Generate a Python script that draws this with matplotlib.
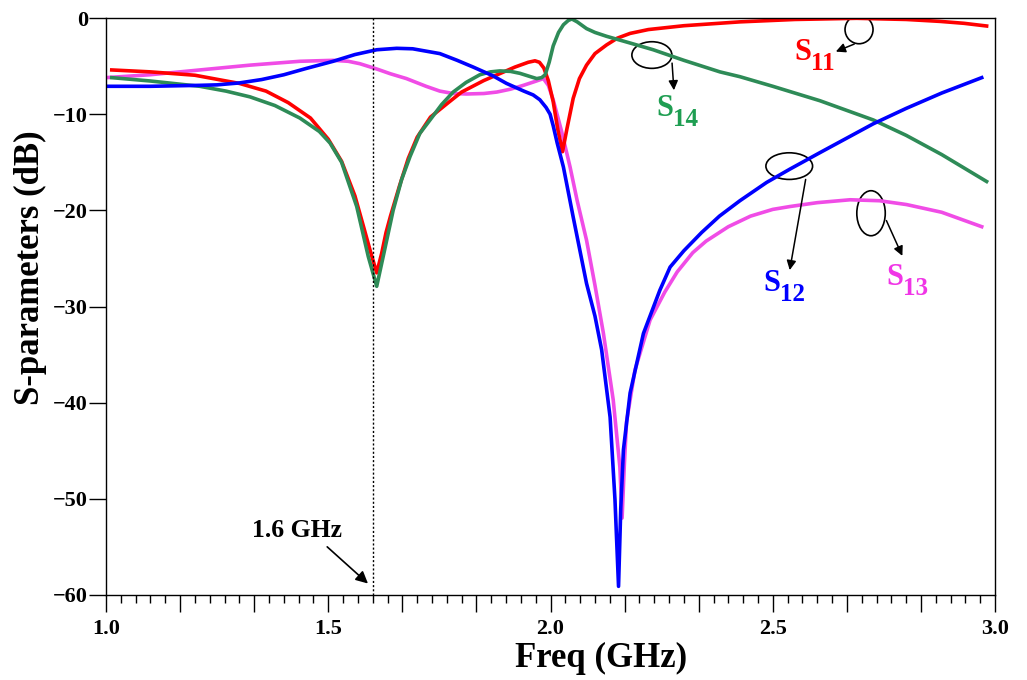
import matplotlib

matplotlib.use("Agg")
import matplotlib.pyplot as plt
from matplotlib.patches import Ellipse
from matplotlib.ticker import MultipleLocator, FuncFormatter

# values (GHz, dB)
s11_f = [1.013, 1.10, 1.20, 1.30, 1.36, 1.41, 1.46, 1.50, 1.53, 1.56, 1.58, 1.595, 1.609, 1.62, 1.63,
         1.64, 1.66, 1.68, 1.70, 1.73, 1.77, 1.80, 1.85, 1.88, 1.92, 1.95, 1.965, 1.975, 1.985, 1.995,
         2.006, 2.016, 2.027, 2.037, 2.051, 2.065, 2.081, 2.10, 2.126, 2.15, 2.179, 2.22, 2.30, 2.426,
         2.55, 2.689, 2.80, 2.876, 2.93, 2.981]
s11_db = [-5.4, -5.6, -5.95, -6.8, -7.6, -8.8, -10.4, -12.6, -14.9, -18.5, -21.8, -24.3, -26.5, -24.5, -22.3,
          -20.6, -17.5, -14.6, -12.4, -10.3, -8.8, -7.7, -6.5, -5.9, -5.1, -4.6, -4.45, -4.6, -5.2, -6.5,
          -8.7, -11.5, -13.9, -11.5, -8.35, -6.3, -4.9, -3.7, -2.8, -2.1, -1.6, -1.2, -0.8, -0.4,
          -0.15, -0.03, -0.15, -0.35, -0.55, -0.83]

s14_f = [1.013, 1.10, 1.211, 1.27, 1.324, 1.38, 1.436, 1.48, 1.504, 1.53, 1.564, 1.59, 1.609, 1.625,
         1.646, 1.665, 1.684, 1.706, 1.729, 1.755, 1.781, 1.81, 1.841, 1.865, 1.886, 1.91, 1.931, 1.955,
         1.969, 1.98, 1.988, 1.997, 2.006, 2.018, 2.029, 2.04, 2.048, 2.06, 2.081, 2.10, 2.126, 2.179,
         2.231, 2.30, 2.381, 2.426, 2.50, 2.606, 2.726, 2.80, 2.88, 2.981]
s14_db = [-6.2, -6.55, -7.1, -7.6, -8.2, -9.1, -10.4, -11.8, -13.0, -15.0, -19.6, -24.8, -27.9, -24.5,
          -20.0, -16.8, -14.4, -12.0, -10.6, -9.0, -7.7, -6.7, -5.9, -5.6, -5.5, -5.55, -5.75, -6.1,
          -6.3, -6.2, -5.9, -4.6, -2.9, -1.5, -0.7, -0.25, -0.1, -0.4, -1.1, -1.5, -1.9, -2.6,
          -3.3, -4.4, -5.6, -6.1, -7.1, -8.6, -10.6, -12.2, -14.2, -17.0]

s12_f = [1.0, 1.10, 1.211, 1.25, 1.30, 1.35, 1.40, 1.45, 1.511, 1.56, 1.609, 1.654, 1.69, 1.751, 1.79,
         1.826, 1.87, 1.901, 1.94, 1.961, 1.976, 1.99, 1.999, 2.006, 2.015, 2.029, 2.051, 2.081, 2.10,
         2.115, 2.134, 2.145, 2.153, 2.158, 2.164, 2.179, 2.209, 2.246, 2.269, 2.30, 2.34, 2.38, 2.426,
         2.486, 2.539, 2.606, 2.65, 2.726, 2.80, 2.88, 2.970]
s12_db = [-7.1, -7.1, -7.0, -6.95, -6.75, -6.4, -5.9, -5.25, -4.5, -3.8, -3.3, -3.15, -3.2, -3.7, -4.4,
          -5.1, -6.0, -6.8, -7.6, -8.0, -8.5, -9.3, -10.0, -11.2, -13.0, -15.5, -20.7, -27.6, -31.0,
          -34.5, -41.5, -50.1, -59.1, -51.0, -44.9, -39.0, -32.8, -28.3, -25.9, -24.2, -22.3, -20.6, -19.0,
          -17.1, -15.7, -14.0, -12.9, -11.0, -9.4, -7.8, -6.2]

s13_f = [1.0, 1.099, 1.211, 1.324, 1.436, 1.511, 1.545, 1.571, 1.609, 1.64, 1.676, 1.72, 1.751, 1.781,
         1.811, 1.85, 1.879, 1.91, 1.939, 1.965, 1.984, 1.995, 2.006, 2.025, 2.044, 2.060, 2.081, 2.10,
         2.119, 2.141, 2.156, 2.161, 2.166, 2.171, 2.190, 2.224, 2.257, 2.285, 2.32, 2.35, 2.40, 2.45, 2.50,
         2.539, 2.60, 2.674, 2.74, 2.801, 2.88, 2.970]
s13_db = [-6.2, -5.9, -5.4, -4.9, -4.5, -4.4, -4.5, -4.75, -5.3, -5.8, -6.3, -7.1, -7.6, -7.85,
          -7.9, -7.85, -7.7, -7.4, -7.0, -6.6, -6.3, -7.0, -8.5, -11.8, -15.5, -19.0, -23.1, -27.8,
          -32.8, -39.7, -46.7, -52.0, -46.5, -42.0, -36.6, -31.4, -28.5, -26.4, -24.4, -23.2, -21.7, -20.6, -19.9,
          -19.6, -19.2, -18.9, -19.0, -19.4, -20.2, -21.7]

marker_freq = 1.6

plt.rcParams["font.family"] = "Liberation Serif"
plt.rcParams["font.weight"] = "bold"

fig = plt.figure(figsize=(10.27, 6.80), dpi=100)
ax = fig.add_axes([0.1032, 0.125, 0.8657, 0.8485])

ax.plot(s13_f, s13_db, color="#f04ce6", lw=2.6)
ax.plot(s11_f, s11_db, color="#ff0000", lw=2.6)
ax.plot(s14_f, s14_db, color="#2e8b57", lw=2.6)
ax.plot(s12_f, s12_db, color="#0000ff", lw=2.6)

ax.axvline(marker_freq, color="black", lw=1.0, ls=(0, (1.5, 1.5)))

ax.set_xlim(1.0, 3.0)
ax.set_ylim(-60, 0)
ax.xaxis.set_major_locator(MultipleLocator(1 / 6))
ax.xaxis.set_minor_locator(MultipleLocator(1 / 30))


def half_labels(v, pos):
    if abs(v * 2 - round(v * 2)) < 1e-6:
        return f"{v:.1f}"
    return ""


ax.xaxis.set_major_formatter(FuncFormatter(half_labels))
ax.yaxis.set_major_locator(MultipleLocator(10))
ax.tick_params(axis="x", which="major", direction="out", length=12, width=1, labelsize=16, pad=5)
ax.tick_params(axis="x", which="minor", direction="out", length=6, width=1)
ax.tick_params(axis="y", which="major", direction="out", length=12, width=1, labelsize=16, pad=1)
for sp in ax.spines.values():
    sp.set_linewidth(1.0)

ax.set_xlabel("Freq (GHz)", fontsize=25, fontweight="bold")
ax.xaxis.set_label_coords(0.557, -0.082)
ax.set_ylabel("S-parameters (dB)", fontsize=25, fontweight="bold")
ax.yaxis.set_label_coords(-0.066, 0.567)

# 1.6 GHz marker
ax.text(1.43, -53.3, "1.6 GHz", fontsize=18.5, fontweight="bold", ha="center", va="center")
ax.annotate("", xy=(1.594, -59.0), xytext=(1.493, -54.8),
            arrowprops=dict(arrowstyle="-|>", color="black", lw=1.2, mutation_scale=18))


def label(ax, x, y, sub, color, ell, tail, head):
    ax.add_patch(Ellipse(ell[:2], ell[2], ell[3], fill=False, ec="black", lw=1.2))
    ax.annotate("", xy=head, xytext=tail,
                arrowprops=dict(arrowstyle="-|>", color="black", lw=1.1, mutation_scale=14))
    ax.text(x, y, "S", color=color, fontsize=22, fontweight="bold", ha="right", va="center")
    ax.annotate(sub, xy=(x, y), xytext=(0, -8), textcoords="offset points", color=color,
                fontsize=18, fontweight="bold", ha="left", va="center")


label(ax, 2.587, -3.6, "11", "#ff0000", (2.694, -1.2, 0.063, 2.95), (2.689, -2.6), (2.636, -3.6))
label(ax, 2.276, -9.4, "14", "#1f9e52", (2.228, -3.85, 0.09, 2.77), (2.273, -4.4), (2.278, -7.8))
label(ax, 2.516, -27.6, "12", "#0000ff", (2.537, -15.4, 0.105, 2.77), (2.575, -16.5), (2.537, -26.5))
label(ax, 2.793, -27.0, "13", "#f035e6", (2.721, -20.3, 0.064, 4.68), (2.753, -20.8), (2.794, -25.0))

fig.savefig("out.png", dpi=100)
